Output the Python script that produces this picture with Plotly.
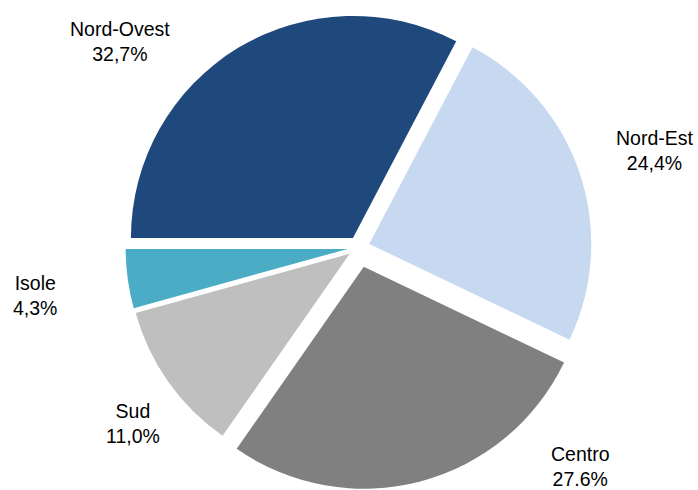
import plotly.graph_objects as go

# Regional shares (%)
regions = ["Nord-Ovest", "Nord-Est", "Centro", "Sud", "Isole"]
shares = [32.7, 24.4, 27.6, 11.0, 4.3]
decimal_marks = [",", ",", ".", ",", ","]
colors = ["#1F497D", "#C6D9F1", "#808080", "#BFBFBF", "#4BACC6"]
pulls = [0.05, 0.05, 0.09, 0.05, 0.05]

# Label anchor positions (paper coords)
label_x = [120 / 698, 655 / 698, 580 / 698, 133 / 698, 35 / 698]
label_y = [1 - 41 / 490, 1 - 150 / 490, 1 - 466 / 490, 1 - 423 / 490, 1 - 295 / 490]

W, H = 698, 490
cx, cy = 358.7, 247.4
side = 484

fig = go.Figure(
    go.Pie(
        labels=regions,
        values=shares,
        sort=False,
        direction="clockwise",
        rotation=-90,
        pull=pulls,
        marker=dict(colors=colors, line=dict(width=0)),
        textinfo="none",
        hoverinfo="label+percent",
        showlegend=False,
        domain=dict(
            x=[(cx - side / 2) / W, (cx + side / 2) / W],
            y=[1 - (cy + side / 2) / H, 1 - (cy - side / 2) / H],
        ),
    )
)

font = dict(family="Liberation Sans, Arial", size=19.5, color="#000000")
for name, val, dec, x, y in zip(regions, shares, decimal_marks, label_x, label_y):
    pct = f"{val:.1f}".replace(".", dec) + "%"
    fig.add_annotation(
        x=x, y=y, xref="paper", yref="paper",
        text=f"{name}<br>{pct}", showarrow=False,
        xanchor="center", yanchor="middle", align="center", font=font,
    )

fig.update_layout(
    width=W, height=H,
    margin=dict(l=0, r=0, t=0, b=0),
    paper_bgcolor="white", plot_bgcolor="white",
)

fig.write_html("out.html")
